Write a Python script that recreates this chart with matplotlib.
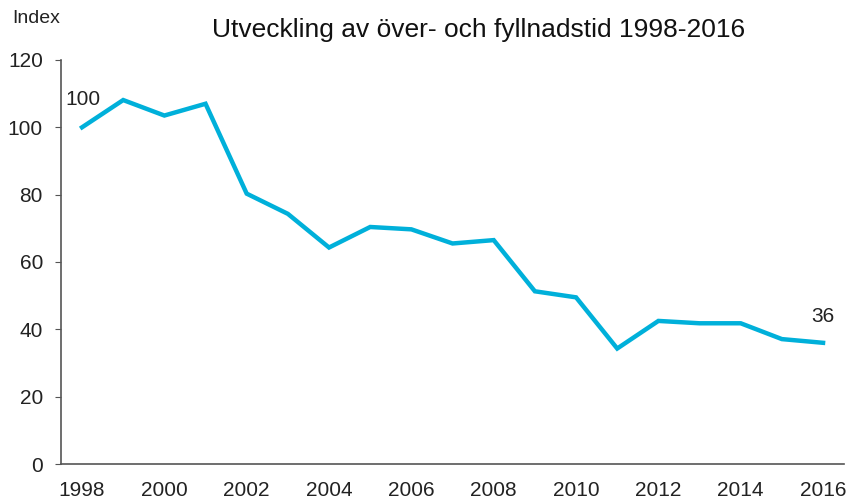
import matplotlib.pyplot as plt

years = list(range(1998, 2017))
index_values = [100, 108.1, 103.5, 107.0, 80.3, 74.3, 64.3, 70.4, 69.7, 65.5,
                66.5, 51.3, 49.5, 34.3, 42.5, 41.8, 41.8, 37.1, 36]
tick_years = list(range(1998, 2017, 2))
y_ticks = list(range(0, 121, 20))

plt.rcParams['font.family'] = ['Liberation Sans', 'DejaVu Sans']

fig = plt.figure(figsize=(8.5, 4.99), dpi=100)
ax = fig.add_axes([0.0718, 0.0701, 0.9212, 0.8097])

ax.plot(years, index_values, color='#00b0da', linewidth=3.2, solid_joinstyle='miter')

# first and last labels
ax.text(years[0] - 0.4, index_values[0] + 5.5, f"{index_values[0]:.0f}",
        fontsize=15, color='#222222', ha='left', va='bottom')
ax.text(years[-1], index_values[-1] + 5, f"{index_values[-1]:.0f}",
        fontsize=15, color='#222222', ha='center', va='bottom')

ax.set_xlim(1997.49, 2016.51)
ax.set_ylim(0, 120)
ax.set_xticks(tick_years)
ax.set_yticks(y_ticks)
ax.tick_params(axis='x', length=0, labelsize=15, pad=12, colors='#222222')
ax.tick_params(axis='y', length=4, direction='out', labelsize=15, pad=9,
               colors='#222222', color='#555555')

for s in ['top', 'right']:
    ax.spines[s].set_visible(False)
for s in ['left', 'bottom']:
    ax.spines[s].set_color('#555555')
    ax.spines[s].set_linewidth(1.2)

fig.text(0.014, 0.962, "Index", fontsize=14, color='#222222', va='center')
fig.text(0.5625, 0.94, "Utveckling av över- och fyllnadstid 1998-2016",
         fontsize=19, color='#111111', ha='center', va='center')

fig.savefig('out.png', dpi=100)
